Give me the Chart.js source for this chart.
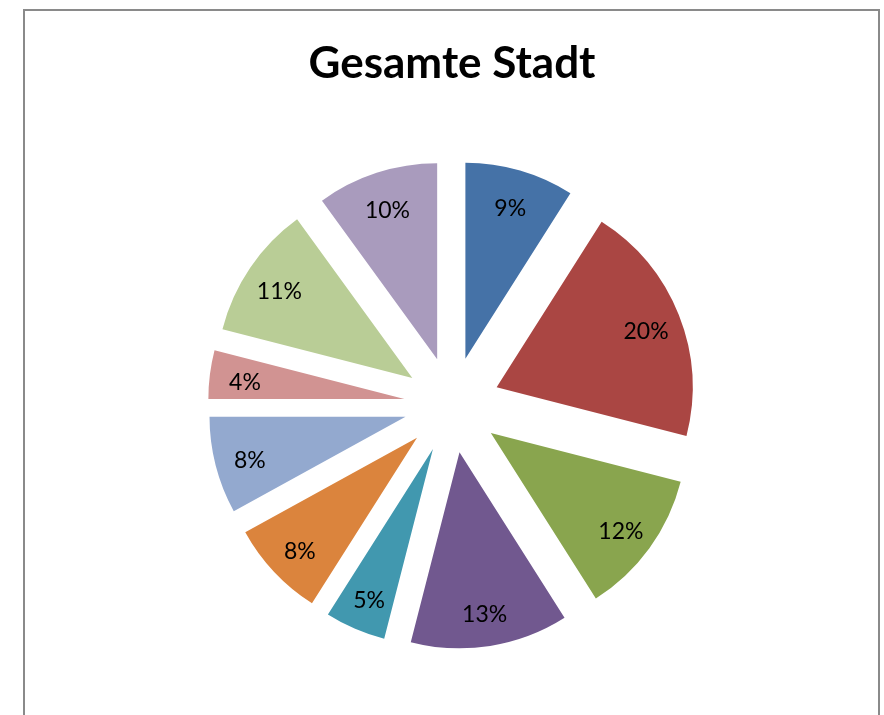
<!DOCTYPE html>
<html>
<head>
<meta charset="utf-8">
<script src="https://cdn.jsdelivr.net/npm/chart.js@4/dist/chart.umd.min.js"></script>
<style>
  html, body { margin: 0; padding: 0; background: #fff; }
  #wrap { position: relative; width: 884px; height: 715px; overflow: hidden; }
  #frame { position: absolute; left: 23px; top: 9px; width: 853px; height: 760px; border: 2px solid #8a8a8a; }
  canvas { position: absolute; left: 0; top: 0; }
</style>
</head>
<body>
<div id="wrap">
  <div id="frame"></div>
  <canvas id="c" width="884" height="715"></canvas>
</div>
<script>
const title = "Gesamte Stadt";
const categories = ["A", "B", "C", "D", "E", "F", "G", "H", "I", "J"];
const values = [9, 20, 12, 13, 5, 8, 8, 4, 11, 10];
const percentLabels = ["9%", "20%", "12%", "13%", "5%", "8%", "8%", "4%", "11%", "10%"];
const colors = ["#4572A7", "#AA4643", "#89A54E", "#71588F", "#4198AF", "#DB843D", "#93A9CF", "#D19392", "#B9CD96", "#A99BBD"];
const explode = 48;

// Draw each arc element with its own outward translation (Excel-style exploded pie)
const explodePlugin = {
  id: 'explode',
  beforeDatasetDraw(chart, args) {
    const ctx = chart.ctx;
    const meta = args.meta;
    meta.data.forEach((arc) => {
      const mid = (arc.startAngle + arc.endAngle) / 2;
      ctx.save();
      ctx.translate(Math.cos(mid) * explode, Math.sin(mid) * explode);
      arc.draw(ctx, chart.chartArea);
      ctx.restore();
    });
    return false;
  }
};

const labelPlugin = {
  id: 'pctLabels',
  afterDatasetsDraw(chart) {
    const ctx = chart.ctx;
    const meta = chart.getDatasetMeta(0);
    ctx.save();
    ctx.font = '23px Lato';
    ctx.fillStyle = '#000';
    ctx.textAlign = 'center';
    ctx.textBaseline = 'middle';
    meta.data.forEach((arc, i) => {
      const mid = (arc.startAngle + arc.endAngle) / 2;
      const r = arc.outerRadius * 0.82 + explode;
      ctx.fillText(percentLabels[i], arc.x + Math.cos(mid) * r, arc.y + Math.sin(mid) * r + 4);
    });
    ctx.restore();
  }
};

new Chart(document.getElementById('c'), {
  type: 'pie',
  data: {
    labels: categories,
    datasets: [{
      data: values,
      backgroundColor: colors,
      borderWidth: 0,
      offset: 0,
      hoverOffset: 0
    }]
  },
  options: {
    responsive: false,
    animation: false,
    radius: 196,
    layout: { padding: { left: 20, right: 0, top: 0, bottom: 0 } },
    plugins: {
      legend: { display: false },
      tooltip: { enabled: false },
      title: {
        display: true,
        text: title,
        color: '#000',
        font: { family: 'Lato', size: 44, weight: 'bold', lineHeight: 1.2 },
        padding: { top: 37, bottom: 5 }
      }
    },
    events: []
  },
  plugins: [explodePlugin, labelPlugin]
});
</script>
</body>
</html>
